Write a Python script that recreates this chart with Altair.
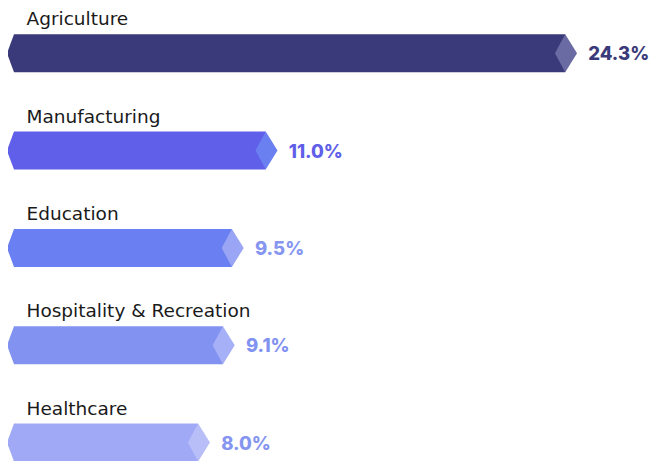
import altair as alt
import pandas as pd

categories = ["Agriculture", "Manufacturing", "Education", "Hospitality & Recreation", "Healthcare"]
values = [24.3, 11.0, 9.5, 9.1, 8.0]
labels = ["24.3%", "11.0%", "9.5%", "9.1%", "8.0%"]
bar_colors = ["#3a3a7b", "#5f5fe9", "#6a80f2", "#8292f0", "#a0a9f6"]
tip_colors = ["#6b6ba3", "#6a7ff0", "#9aa6f5", "#a6b0f6", "#b8bff8"]
text_colors = ["#3a3a7b", "#5f5fe9", "#8595f0", "#8292f0", "#8595f0"]

df = pd.DataFrame({
    "category": categories,
    "value": values,
    "label": labels,
    "idx": list(range(len(categories))),
    "bar_color": bar_colors,
    "tip_color": tip_colors,
    "text_color": text_colors,
})

W, H = 649, 487
xs = alt.Scale(domain=[-0.444, 28.375], range=[0, W], nice=False, zero=False)
ys = alt.Scale(domain=[-0.4656, 4.539], range=[0, H], nice=False, zero=False)

x = alt.X("value:Q", scale=xs, axis=None)
y = alt.Y("idx:Q", scale=ys, axis=None)

base = alt.Chart(df)

bars = base.mark_rule(strokeWidth=38, strokeCap="butt").encode(
    x=x, x2=alt.value(6), y=y,
    color=alt.Color("bar_color:N", scale=None),
)

left_tip = base.mark_point(
    shape="M0,-1 L-0.37,0 L0,1 Z", size=1444, filled=True, opacity=1, strokeWidth=0
).encode(
    x=alt.value(6), y=y,
    color=alt.Color("bar_color:N", scale=None),
)

right_tip = base.mark_point(
    shape="M-0.54,0 L0,-1 L0.62,0 L0,1 Z", size=1444, filled=True, opacity=1, strokeWidth=0
).encode(
    x=x, y=y,
    color=alt.Color("tip_color:N", scale=None),
)

values_text = base.mark_text(
    align="left", baseline="middle", dx=23, dy=1,
    font="Inter", fontSize=18.5, fontWeight=800,
).encode(
    x=x, y=y, text="label:N",
    color=alt.Color("text_color:N", scale=None),
)

cat_text = base.mark_text(
    align="left", baseline="alphabetic", dy=-28,
    font="DejaVu Sans", fontSize=18.5, fontWeight=400, color="#1a1a1a",
).encode(
    x=alt.value(18.5), y=y, text="category:N",
)

chart = alt.layer(bars, left_tip, right_tip, values_text, cat_text).properties(
    width=W, height=H, padding=0, autosize=alt.AutoSizeParams(type="none"),
).configure_view(stroke=None)

chart.save("out.html", embed_options={"renderer": "svg", "actions": False})
